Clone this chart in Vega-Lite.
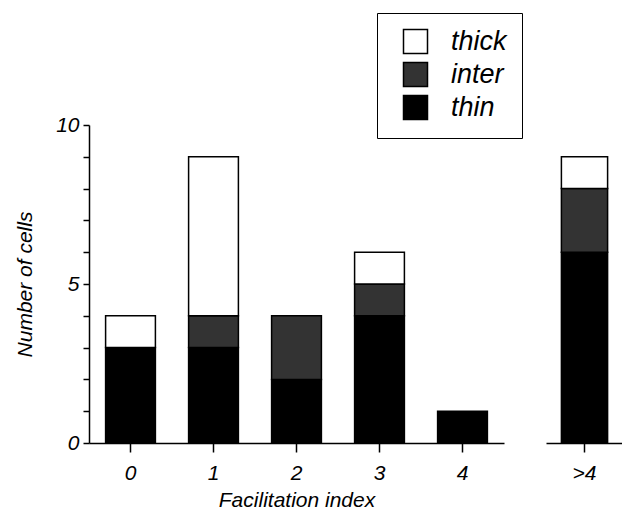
{
  "$schema": "https://vega.github.io/schema/vega-lite/v6.json",
  "padding": {"left": 14, "top": 12, "right": 0, "bottom": 0},
  "background": "white",
  "datasets": {
    "cells": [
      {"idx": "0", "type": "thin", "n": 3},
      {"idx": "0", "type": "thick", "n": 1},
      {"idx": "1", "type": "thin", "n": 3},
      {"idx": "1", "type": "inter", "n": 1},
      {"idx": "1", "type": "thick", "n": 5},
      {"idx": "2", "type": "thin", "n": 2},
      {"idx": "2", "type": "inter", "n": 2},
      {"idx": "3", "type": "thin", "n": 4},
      {"idx": "3", "type": "inter", "n": 1},
      {"idx": "3", "type": "thick", "n": 1},
      {"idx": "4", "type": "thin", "n": 1},
      {"idx": ">4", "type": "thin", "n": 6},
      {"idx": ">4", "type": "inter", "n": 2},
      {"idx": ">4", "type": "thick", "n": 1}
    ]
  },
  "spacing": 42,
  "resolve": {"scale": {"color": "shared"}},
  "hconcat": [
    {
      "width": 415,
      "height": 318,
      "data": {"name": "cells"},
      "transform": [
        {"filter": "datum.idx !== '>4'"},
        {"calculate": "indexof(['thin','inter','thick'], datum.type)", "as": "stackOrder"}
      ],
      "mark": {"type": "bar", "stroke": "black", "strokeWidth": 1.5},
      "encoding": {
        "x": {
          "field": "idx", "type": "ordinal", "sort": ["0", "1", "2", "3", "4"],
          "scale": {"paddingInner": 0.4, "paddingOuter": 0.2},
          "axis": {"title": "Facilitation index", "labelAngle": 0, "tickSize": 9, "labelPadding": 10, "titlePadding": 6}
        },
        "y": {
          "field": "n", "type": "quantitative", "stack": "zero",
          "scale": {"domain": [0, 10], "nice": false},
          "axis": {
            "title": "Number of cells",
            "values": [0, 1, 2, 3, 4, 5, 6, 7, 8, 9, 10],
            "labelExpr": "datum.value % 5 === 0 ? datum.label : ''",
            "grid": false, "tickSize": 6, "labelPadding": 4, "titlePadding": 20
          }
        },
        "color": {
          "field": "type", "type": "nominal",
          "scale": {"domain": ["thick", "inter", "thin"], "range": ["white", "#333333", "black"]},
          "legend": {
            "orient": "none", "legendX": 288, "legendY": -112,
            "title": null, "strokeColor": "black", "padding": 15,
            "symbolType": "square", "symbolSize": 576,
            "symbolStrokeColor": "black", "symbolStrokeWidth": 1.5,
            "symbolOffset": 10,
            "labelExpr": "datum.label + '   '",
            "labelFontSize": 27, "labelFontStyle": "italic", "labelFont": "Liberation Sans",
            "labelColor": "black", "labelOffset": 22, "rowPadding": 2
          }
        },
        "order": {"field": "stackOrder", "type": "quantitative"}
      }
    },
    {
      "width": 77,
      "height": 318,
      "data": {"name": "cells"},
      "transform": [
        {"filter": "datum.idx === '>4'"},
        {"calculate": "indexof(['thin','inter','thick'], datum.type)", "as": "stackOrder"}
      ],
      "mark": {"type": "bar", "stroke": "black", "strokeWidth": 1.5},
      "encoding": {
        "x": {
          "field": "idx", "type": "ordinal",
          "scale": {"paddingInner": 0.4, "paddingOuter": 0.2},
          "axis": {"title": null, "labelAngle": 0, "tickSize": 9, "labelPadding": 10}
        },
        "y": {
          "field": "n", "type": "quantitative", "stack": "zero",
          "scale": {"domain": [0, 10], "nice": false},
          "axis": null
        },
        "color": {
          "field": "type", "type": "nominal",
          "scale": {"domain": ["thick", "inter", "thin"], "range": ["white", "#333333", "black"]}
        },
        "order": {"field": "stackOrder", "type": "quantitative"}
      }
    }
  ],
  "config": {
    "font": "Liberation Sans",
    "view": {"stroke": null},
    "axis": {
      "domainColor": "black", "domainWidth": 1.5,
      "tickColor": "black", "tickWidth": 1.5,
      "labelColor": "black", "labelFont": "Liberation Sans", "labelFontSize": 21, "labelFontStyle": "italic",
      "titleColor": "black", "titleFont": "Liberation Sans", "titleFontSize": 21, "titleFontStyle": "italic", "titleFontWeight": "normal"
    }
  }
}
